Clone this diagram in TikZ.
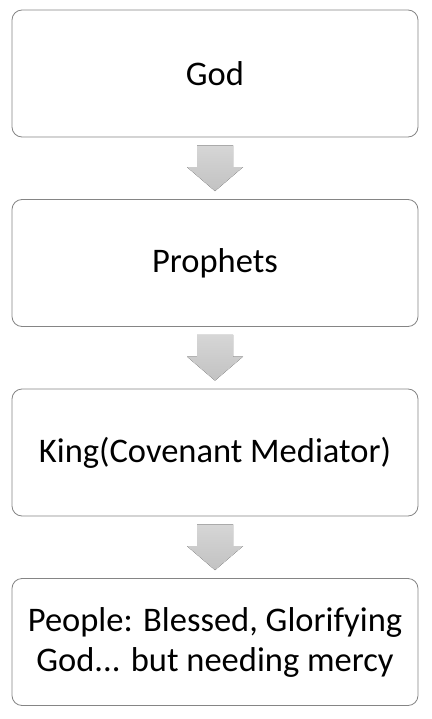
\documentclass[tikz,border=0pt]{standalone}
\usepackage{fontspec}
\setmainfont{Carlito}
\usetikzlibrary{calc}
\definecolor{boxline}{HTML}{858585}
\definecolor{arrtop}{HTML}{D6D6D6}
\definecolor{arrbot}{HTML}{C2C2C2}
\tikzset{
  stagebox/.style={draw=boxline, line width=0.8pt, rounded corners=10pt, fill=white,
    minimum width=406pt, minimum height=127pt, inner sep=0pt, align=center,
    font=\fontsize{34.5}{40}\selectfont, text=black},
  downarrow/.style={top color=arrtop, bottom color=arrbot, draw=none}
}
\begin{document}
\begin{tikzpicture}[x=1pt,y=-1pt]
\useasboundingbox (0,0) rectangle (431,719);
\node[stagebox] (god) at (215,73.5) {God};
\node[stagebox] (prophets) at (215,263) {Prophets};
\node[stagebox] (king) at (215,452.5) {King(Covenant Mediator)};
\node[stagebox] (people) at (215,642) {People: Blessed, Glorifying\\God... but needing mercy};
\foreach \a/\b in {god/prophets, prophets/king, king/people}{
  \path ($(\a.south)+(0,8)$) coordinate (\a-top);
  \path ($(\b.north)+(0,-8)$) coordinate (\a-tip);
  \fill[downarrow] ($(\a-top)+(-18,0)$) -- ($(\a-top)+(18,0)$) -- ($(\a-tip)+(18,-24)$)
     -- ($(\a-tip)+(28,-24)$) -- (\a-tip) -- ($(\a-tip)+(-28,-24)$) -- ($(\a-tip)+(-18,-24)$) -- cycle;
}
\end{tikzpicture}
\end{document}
